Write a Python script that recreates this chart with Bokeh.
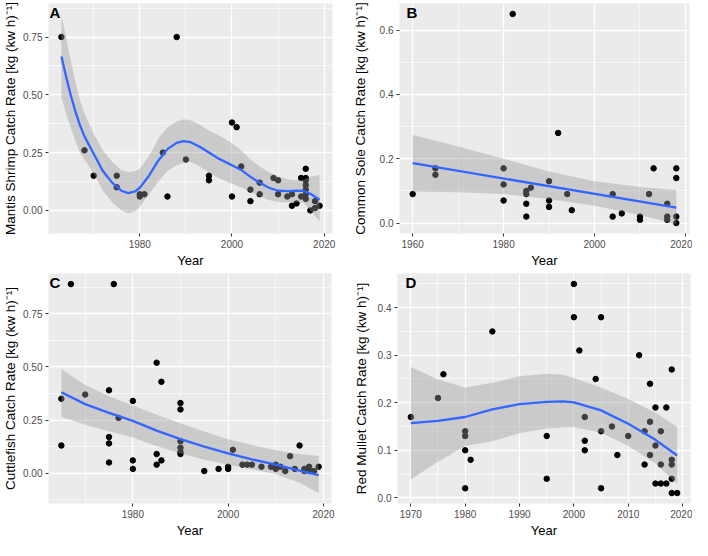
from bokeh.plotting import figure
from bokeh.layouts import column, row
from bokeh.models import FixedTicker, Label, Range1d, NumeralTickFormatter
from bokeh.embed import file_html
from bokeh.resources import INLINE

FONT = "Liberation Sans"

# ---------------- Panel A: Mantis shrimp ----------------
a_year = [1963, 1968, 1970, 1975, 1975, 1980, 1980, 1981, 1985, 1986, 1988, 1990,
          1995, 1995, 2000, 2000, 2001, 2002, 2004, 2004, 2006, 2006, 2009, 2010,
          2010, 2012, 2013, 2013, 2014, 2015, 2015, 2016, 2016, 2016, 2016, 2016,
          2016, 2016, 2017, 2018, 2018, 2019]
a_rate = [0.75, 0.26, 0.15, 0.15, 0.10, 0.07, 0.06, 0.07, 0.25, 0.06, 0.75, 0.22,
          0.15, 0.13, 0.38, 0.06, 0.36, 0.19, 0.09, 0.04, 0.12, 0.07, 0.14, 0.13,
          0.07, 0.06, 0.07, 0.02, 0.03, 0.14, 0.06, 0.18, 0.14, 0.13, 0.11, 0.09,
          0.07, 0.05, 0.00, 0.04, 0.01, 0.02]
a_fit_year = [1963, 1964, 1965, 1966, 1967, 1968, 1970, 1972, 1974, 1976, 1977.5, 1979,
              1980, 1982, 1984, 1986, 1988, 1989.5, 1991, 1993, 1995, 1997, 2000, 2002,
              2004, 2006, 2008, 2010, 2012, 2014, 2015.5, 2017, 2019]
a_fit = [0.666, 0.58, 0.50, 0.43, 0.37, 0.32, 0.245, 0.17, 0.12, 0.085, 0.075, 0.082,
         0.098, 0.15, 0.215, 0.265, 0.292, 0.300, 0.295, 0.275, 0.25, 0.225, 0.195, 0.175,
         0.145, 0.12, 0.098, 0.085, 0.083, 0.085, 0.084, 0.072, 0.046]
a_hi = [0.845, 0.75, 0.65, 0.56, 0.48, 0.42, 0.33, 0.26, 0.21, 0.175, 0.165, 0.17,
        0.18, 0.235, 0.31, 0.36, 0.385, 0.394, 0.39, 0.37, 0.345, 0.326, 0.29, 0.26,
        0.22, 0.19, 0.165, 0.147, 0.135, 0.13, 0.133, 0.145, 0.153]
a_lo = [0.487, 0.42, 0.36, 0.30, 0.25, 0.22, 0.16, 0.085, 0.035, 0.0, -0.012, -0.005,
        0.015, 0.07, 0.125, 0.17, 0.195, 0.205, 0.21, 0.19, 0.165, 0.14, 0.115, 0.10,
        0.08, 0.06, 0.045, 0.036, 0.034, 0.036, 0.033, 0.0, -0.047]

# ---------------- Panel B: Common sole ----------------
b_year = [1960, 1965, 1965, 1980, 1980, 1980, 1982, 1985, 1985, 1985, 1985, 1986,
          1990, 1990, 1990, 1992, 1994, 1995, 2004, 2004, 2006, 2010, 2010, 2012,
          2013, 2016, 2016, 2016, 2018, 2018, 2018, 2018]
b_rate = [0.09, 0.17, 0.15, 0.17, 0.12, 0.07, 0.65, 0.10, 0.09, 0.06, 0.02, 0.11,
          0.13, 0.07, 0.05, 0.28, 0.09, 0.04, 0.09, 0.02, 0.03, 0.02, 0.01, 0.09,
          0.17, 0.06, 0.02, 0.01, 0.17, 0.14, 0.02, 0.00]
b_fit_year = [1960, 2018]
b_fit = [0.186, 0.048]
b_band_year = [1960, 1970, 1980, 1990, 2000, 2010, 2018]
b_hi = [0.274, 0.238, 0.200, 0.160, 0.130, 0.112, 0.103]
b_lo = [0.098, 0.096, 0.090, 0.075, 0.054, 0.025, -0.004]

# ---------------- Panel C: Cuttlefish ----------------
c_year = [1965, 1965, 1967, 1970, 1975, 1975, 1975, 1975, 1976, 1977, 1980, 1980,
          1980, 1985, 1985, 1985, 1986, 1986, 1990, 1990, 1990, 1990, 1990, 1990,
          1995, 1998, 2000, 2000, 2001, 2003, 2004, 2005, 2007, 2009, 2010, 2010,
          2011, 2012, 2013, 2014, 2015, 2016, 2016, 2017, 2017, 2018, 2019]
c_rate = [0.35, 0.13, 0.89, 0.37, 0.39, 0.17, 0.14, 0.05, 0.89, 0.26, 0.34, 0.06,
          0.02, 0.52, 0.09, 0.04, 0.43, 0.06, 0.33, 0.30, 0.15, 0.12, 0.10, 0.09,
          0.01, 0.02, 0.03, 0.02, 0.11, 0.04, 0.04, 0.04, 0.03, 0.03, 0.04, 0.02,
          0.03, 0.01, 0.08, 0.02, 0.13, 0.02, 0.01, 0.03, 0.01, 0.01, 0.03]
c_fit_year = [1965, 1970, 1975, 1980, 1985, 1990, 1995, 2000, 2005, 2010, 2015, 2019]
c_fit = [0.381, 0.325, 0.284, 0.246, 0.200, 0.160, 0.125, 0.093, 0.065, 0.040, 0.012, -0.009]
c_hi = [0.49, 0.415, 0.362, 0.318, 0.275, 0.235, 0.196, 0.160, 0.132, 0.108, 0.090, 0.081]
c_lo = [0.265, 0.228, 0.197, 0.168, 0.128, 0.093, 0.063, 0.040, 0.018, -0.004, -0.045, -0.094]

# ---------------- Panel D: Red mullet ----------------
d_year = [1970, 1975, 1976, 1980, 1980, 1980, 1980, 1981, 1985, 1995, 1995, 2000,
          2000, 2001, 2002, 2002, 2002, 2004, 2005, 2005, 2005, 2007, 2008, 2010,
          2012, 2013, 2013, 2014, 2014, 2014, 2015, 2015, 2015, 2016, 2016, 2016,
          2017, 2017, 2018, 2018, 2018, 2018, 2018, 2019]
d_rate = [0.17, 0.21, 0.26, 0.14, 0.13, 0.10, 0.02, 0.08, 0.35, 0.13, 0.04, 0.45,
          0.38, 0.31, 0.17, 0.12, 0.10, 0.25, 0.38, 0.14, 0.02, 0.15, 0.09, 0.13,
          0.30, 0.14, 0.07, 0.24, 0.16, 0.09, 0.19, 0.11, 0.03, 0.14, 0.07, 0.03,
          0.19, 0.03, 0.27, 0.08, 0.07, 0.04, 0.01, 0.01]
d_fit_year = [1970, 1975, 1980, 1985, 1990, 1995, 1998, 2000, 2005, 2010, 2015, 2019]
d_fit = [0.157, 0.162, 0.170, 0.186, 0.197, 0.202, 0.203, 0.201, 0.184, 0.156, 0.122, 0.089]
d_hi = [0.275, 0.249, 0.232, 0.242, 0.256, 0.261, 0.259, 0.252, 0.232, 0.208, 0.179, 0.149]
d_lo = [0.039, 0.076, 0.109, 0.119, 0.136, 0.146, 0.148, 0.149, 0.137, 0.109, 0.072, 0.029]

# ---------------- axes ----------------
x_major_ac = [1980, 2000, 2020]
x_minor_ac = [1970, 1990, 2010]
x_major_b = [1960, 1980, 2000, 2020]
x_minor_b = [1970, 1990, 2010]
x_major_d = [1970, 1980, 1990, 2000, 2010, 2020]
x_minor_d = [1975, 1985, 1995, 2005, 2015]
y_major_ac = [0.0, 0.25, 0.5, 0.75]
y_labels_ac = ["0.00", "0.25", "0.50", "0.75"]
y_minor_a = [0.125, 0.375, 0.625, 0.875]
y_minor_c = [-0.125, 0.125, 0.375, 0.625, 0.875]
y_major_b = [0.0, 0.2, 0.4, 0.6]
y_labels_b = ["0.0", "0.2", "0.4", "0.6"]
y_minor_b = [0.1, 0.3, 0.5]
y_major_d = [0.0, 0.1, 0.2, 0.3, 0.4]
y_labels_d = ["0.0", "0.1", "0.2", "0.3", "0.4"]
y_minor_d = [0.05, 0.15, 0.25, 0.35, 0.45]

ylab_a = "Mantis Shrimp Catch Rate [kg (kw h)\u207b\u00b9]"
ylab_b = "Common Sole Catch Rate [kg (kw h)\u207b\u00b9]"
ylab_c = "Cuttlefish Catch Rate [kg (kw h)\u207b\u00b9]"
ylab_d = "Red Mullet Catch Rate [kg (kw h)\u207b\u00b9]"


def panel(letter, xs, ys, fx, fy, bx, blo, bhi, xr, yr, xmaj, xmin, ymaj, ymin,
          ylabs, ylabel, fmt, borders, letter_dx, ylab_standoff):
    left, right, top, bottom = borders
    p = figure(width=346, height=270, output_backend="svg", toolbar_location=None,
               x_range=Range1d(*xr), y_range=Range1d(*yr), title=None,
               min_border_left=left, min_border_right=right,
               min_border_top=top, min_border_bottom=bottom)
    p.background_fill_color = "#EBEBEB"
    p.border_fill_color = "white"
    p.outline_line_color = None

    p.xaxis.ticker = FixedTicker(ticks=xmaj, minor_ticks=xmin)
    p.yaxis.ticker = FixedTicker(ticks=ymaj, minor_ticks=ymin)
    p.yaxis.formatter = NumeralTickFormatter(format=fmt)
    p.yaxis.major_label_overrides = {v: s for v, s in zip(ymaj, ylabs)}
    for g in (p.xgrid, p.ygrid):
        g.grid_line_color = "white"
        g.grid_line_width = 1.3
        g.minor_grid_line_color = "white"
        g.minor_grid_line_width = 0.6

    p.scatter(xs, ys, size=5.5, color="black")
    p.varea(x=bx, y1=blo, y2=bhi, fill_color="#999999", fill_alpha=0.4)
    p.line(fx, fy, line_color="#3366FF", line_width=2.3)

    for ax in (p.xaxis, p.yaxis):
        ax.axis_line_color = None
        ax.major_tick_line_color = "#333333"
        ax.major_tick_out = 3
        ax.major_tick_in = 0
        ax.minor_tick_line_color = None
        ax.major_label_text_color = "#4D4D4D"
        ax.major_label_text_font = FONT
        ax.major_label_text_font_size = "10px"
        ax.major_label_standoff = 2
        ax.axis_label_text_font = FONT
        ax.axis_label_text_font_style = "normal"
        ax.axis_label_text_color = "black"
    p.xaxis.axis_label_text_font_size = "13px"
    p.yaxis.axis_label_text_font_size = "13.5px"
    p.xaxis.axis_label = "Year"
    p.xaxis.axis_label_standoff = 2
    p.yaxis.axis_label = ylabel
    p.yaxis.axis_label_standoff = ylab_standoff

    p.add_layout(Label(x=xr[0], y=yr[1], text=letter, x_units="data", y_units="data",
                       x_offset=letter_dx, y_offset=0, text_baseline="top",
                       text_font=FONT, text_font_style="bold",
                       text_font_size="15px", text_color="black"))
    return p


pA = panel("A", a_year, a_rate, a_fit_year, a_fit, a_fit_year, a_lo, a_hi,
           (1960.2, 2021.8), (-0.1, 0.895), x_major_ac, x_minor_ac, y_major_ac, y_minor_a,
           y_labels_ac, ylab_a, "0.00", (43, 14, 3, 35), 1, 2)
pB = panel("B", b_year, b_rate, b_fit_year, b_fit, b_band_year, b_lo, b_hi,
           (1957.1, 2020.9), (-0.0325, 0.6825), x_major_b, x_minor_b, y_major_b, y_minor_b,
           y_labels_b, ylab_b, "0.0", (53, 3, 3, 35), 7, 9)
pC = panel("C", c_year, c_rate, c_fit_year, c_fit, c_fit_year, c_lo, c_hi,
           (1962.3, 2021.7), (-0.143, 0.94), x_major_ac, x_minor_ac, y_major_ac, y_minor_c,
           y_labels_ac, ylab_c, "0.00", (43, 15, 3, 33), 1, 2)
pD = panel("D", d_year, d_rate, d_fit_year, d_fit, d_fit_year, d_lo, d_hi,
           (1967.55, 2021.45), (-0.012, 0.472), x_major_d, x_minor_d, y_major_d, y_minor_d,
           y_labels_d, ylab_d, "0.0", (51, 2, 3, 33), 8, 6)

layout = column(row(pA, pB), row(pC, pD))
open("out.html", "w").write(file_html(layout, INLINE))
